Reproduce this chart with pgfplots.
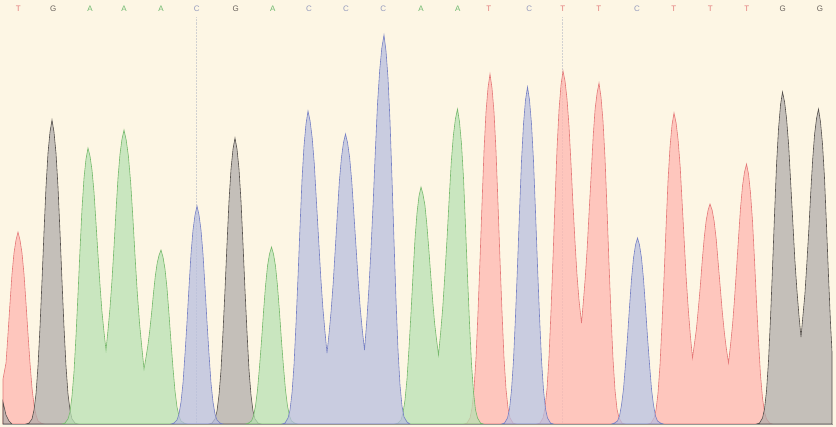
\documentclass[border=0pt]{standalone}
\usepackage{pgfplots}
\pgfplotsset{compat=1.18}
\usepackage{fontspec}
\setmainfont{Liberation Sans}
\definecolor{bg}{RGB}{253,246,228}
\definecolor{tfill}{RGB}{255,183,176}
\definecolor{gfill}{RGB}{177,173,171}
\definecolor{afill}{RGB}{184,225,179}
\definecolor{cfill}{RGB}{184,191,223}
\definecolor{tline}{RGB}{228,120,120}
\definecolor{gline}{RGB}{85,80,76}
\definecolor{aline}{RGB}{118,185,108}
\definecolor{cline}{RGB}{118,128,196}
\definecolor{tlab}{RGB}{226,120,120}
\definecolor{glab}{RGB}{105,98,92}
\definecolor{alab}{RGB}{110,185,110}
\definecolor{clab}{RGB}{150,156,190}
\begin{document}
\begin{tikzpicture}
\begin{axis}[
  width=836bp, height=427bp, scale only axis,
  xmin=0, xmax=836, ymin=-3, ymax=424,
  axis lines=none, xtick=\empty, ytick=\empty,
  axis background/.style={fill=bg},
  clip=true,
  tr/.style={draw=tline, fill=tfill, fill opacity=0.75, line width=0.6pt},
  gr/.style={draw=gline, fill=gfill, fill opacity=0.75, line width=0.6pt},
  ar/.style={draw=aline, fill=afill, fill opacity=0.75, line width=0.6pt},
  cr/.style={draw=cline, fill=cfill, fill opacity=0.75, line width=0.6pt},
]
\draw[densely dotted, color=black!18, line width=0.5pt] (axis cs:196.5,0) -- (axis cs:196.5,407);
\draw[densely dotted, color=black!18, line width=0.5pt] (axis cs:562,0) -- (axis cs:562,407);

% T (red)
\addplot[tr] coordinates {(3,0)(3,45)(6,61)(8,90)(10,121)(12,150)(14,171)(16,184)(18,192)(20,184)(22,171)(24,150)(26,121)(28,90)(30,61)(32,36)(34,19)(36,9)(38,3)(41,1)(44,0)} \closedcycle;
\addplot[tr] coordinates {(464,0)(467,1)(470,6)(472,16)(474,35)(476,66)(478,112)(480,164)(482,220)(484,273)(486,312)(488,336)(490,350)(492,336)(494,312)(496,273)(498,220)(500,164)(502,112)(504,66)(506,35)(508,16)(510,6)(513,1)(516,0)} \closedcycle;
\addplot[tr] coordinates {(537,0)(540,1)(543,6)(545,16)(547,35)(549,67)(551,113)(553,166)(555,222)(557,275)(559,314)(561,339)(563,353)(565,343)(567,325)(569,298)(571,260)(573,219)(575,182)(577,149)(579,124)(581.5,101)(583.4,123)(585.3,147)(587.3,178)(589.2,214)(591.3,252)(593.2,288)(595.1,315)(597.1,331)(599,341)(601,327)(603,303)(605,266)(607,215)(609,160)(611,109)(613,65)(615,34)(617,15)(619,6)(622,1)(625,0)} \closedcycle;
\addplot[tr] coordinates {(648,0)(651,1)(654,6)(656,14)(658,31)(660,59)(662,100)(664,146)(666,196)(668,243)(670,277)(672,299)(674,311)(676.1,301)(678.1,284)(680.2,257)(682.2,220)(684.3,181)(686.3,144)(688.4,113)(690.4,88)(692.5,66)(694.4,80)(696.4,95)(698.3,115)(700.3,138)(702.2,163)(704.2,186)(706.1,203)(708.1,214)(710,220)(712.1,214)(714.1,203)(716.2,185)(718.2,161)(720.3,136)(722.3,112)(724.4,91)(726.4,75)(728.5,61)(730.5,79)(732.5,99)(734.5,125)(736.5,155)(738.5,186)(740.5,216)(742.5,238)(744.5,252)(746.5,260)(748.5,250)(750.5,231)(752.5,203)(754.5,164)(756.5,122)(758.5,83)(760.5,49)(762.5,26)(764.5,12)(766.5,5)(769.5,1)(772.5,0)} \closedcycle;

% G (grey)
\addplot[gr] coordinates {(3,0)(3,22)(6,9)(9,3)(12,0)} \closedcycle;
\addplot[gr] coordinates {(26,0)(29,1)(32,5)(34,14)(36,30)(38,58)(40,97)(42,143)(44,192)(46,237)(48,271)(50,292)(52,304)(54,292)(56,271)(58,237)(60,192)(62,143)(64,97)(66,58)(68,30)(70,14)(72,5)(75,1)(78,0)} \closedcycle;
\addplot[gr] coordinates {(209,0)(212,1)(215,5)(217,13)(219,29)(221,54)(223,92)(225,134)(227,180)(229,223)(231,255)(233,275)(235,286)(237,275)(239,255)(241,223)(243,180)(245,134)(247,92)(249,54)(251,29)(253,13)(255,5)(258,1)(261,0)} \closedcycle;
\addplot[gr] coordinates {(756.5,0)(759.5,1)(762.5,6)(764.5,15)(766.5,33)(768.5,63)(770.5,106)(772.5,156)(774.5,209)(776.5,259)(778.5,295)(780.5,319)(782.5,332)(784.6,322)(786.6,305)(788.7,278)(790.7,241)(792.8,202)(794.8,165)(796.9,134)(798.9,109)(801,87)(802.9,108)(804.9,130)(806.8,160)(808.8,194)(810.7,231)(812.7,265)(814.6,290)(816.6,306)(818.5,315)(820.5,302)(822.5,280)(824.5,246)(826.5,198)(828.5,148)(830.5,101)(832,72)(832,0)} \closedcycle;

% A (green)
\addplot[ar] coordinates {(62,0)(65,1)(68,5)(70,12)(72,28)(74,52)(76,88)(78,130)(80,174)(82,215)(84,246)(86,265)(88,276)(90,268)(92,254)(94,232)(96,201)(98,169)(100,139)(102,112)(104,92)(106,74)(108,94)(110,116)(112,144)(114,177)(116,213)(118,246)(120,270)(122,285)(124,294)(126.2,284)(128.4,268)(130.7,241)(132.9,206)(135.1,167)(137.3,131)(139.6,100)(141.8,77)(144,55)(145.9,66)(147.8,78)(149.7,93)(151.6,111)(153.4,130)(155.3,148)(157.2,161)(159.1,169)(161,174)(163,167)(165,155)(167,136)(169,110)(171,82)(173,56)(175,33)(177,17)(179,8)(181,3)(184,1)(187,0)} \closedcycle;
\addplot[ar] coordinates {(245.5,0)(248.5,1)(251.5,3)(253.5,8)(255.5,18)(257.5,34)(259.5,57)(261.5,83)(263.5,112)(265.5,138)(267.5,158)(269.5,170)(271.5,177)(273.5,170)(275.5,158)(277.5,138)(279.5,112)(281.5,83)(283.5,57)(285.5,34)(287.5,18)(289.5,8)(291.5,3)(294.5,1)(297.5,0)} \closedcycle;
\addplot[ar] coordinates {(395,0)(398,1)(401,4)(403,11)(405,24)(407,45)(409,76)(411,111)(413,149)(415,185)(417,211)(419,228)(421,237)(422.9,230)(424.9,219)(426.8,200)(428.8,175)(430.8,148)(432.7,123)(434.6,101)(436.6,84)(438.5,69)(440.6,91)(442.7,116)(444.8,148)(447,185)(449.1,224)(451.2,261)(453.3,288)(455.4,305)(457.5,315)(459.5,302)(461.5,280)(463.5,246)(465.5,198)(467.5,148)(469.5,101)(471.5,60)(473.5,32)(475.5,14)(477.5,6)(480.5,1)(483.5,0)} \closedcycle;

% C (blue)
\addplot[cr] coordinates {(171,0)(174,1)(177,4)(179,10)(181,22)(183,41)(185,70)(187,102)(189,137)(191,170)(193,194)(195,209)(197,218)(199,209)(201,194)(203,170)(205,137)(207,102)(209,70)(211,41)(213,22)(215,10)(217,4)(220,1)(223,0)} \closedcycle;
\addplot[cr] coordinates {(282,0)(285,1)(288,6)(290,14)(292,31)(294,59)(296,100)(298,147)(300,197)(302,244)(304,278)(306,300)(308,313)(310.1,303)(312.2,286)(314.3,260)(316.4,223)(318.6,185)(320.7,148)(322.8,117)(324.9,93)(327,71)(329.1,91)(331.1,113)(333.2,141)(335.2,174)(337.3,209)(339.3,242)(341.4,266)(343.4,281)(345.5,290)(347.6,281)(349.7,266)(351.8,242)(353.9,210)(356.1,176)(358.2,143)(360.3,115)(362.4,93)(364.5,74)(366.7,102)(368.8,134)(371,175)(373.2,222)(375.3,272)(377.5,320)(379.7,354)(381.8,376)(384,389)(386,373)(388,346)(390,303)(392,245)(394,183)(396,124)(398,74)(400,39)(402,18)(404,7)(407,2)(410,0)} \closedcycle;
\addplot[cr] coordinates {(501.5,0)(504.5,1)(507.5,6)(509.5,15)(511.5,34)(513.5,64)(515.5,108)(517.5,158)(519.5,212)(521.5,263)(523.5,300)(525.5,324)(527.5,337)(529.5,324)(531.5,300)(533.5,263)(535.5,212)(537.5,158)(539.5,108)(541.5,64)(543.5,34)(545.5,15)(547.5,6)(550.5,1)(553.5,0)} \closedcycle;
\addplot[cr] coordinates {(611.5,0)(614.5,1)(617.5,3)(619.5,8)(621.5,19)(623.5,35)(625.5,60)(627.5,87)(629.5,117)(631.5,145)(633.5,166)(635.5,179)(637.5,186)(639.5,179)(641.5,166)(643.5,145)(645.5,117)(647.5,87)(649.5,60)(651.5,35)(653.5,19)(655.5,8)(657.5,3)(660.5,1)(663.5,0)} \closedcycle;

\draw[color=gline!60, line width=0.6pt] (axis cs:3,0) -- (axis cs:833,0);

% base calls
\begin{scope}[every node/.style={font=\fontsize{8}{8}\selectfont, anchor=center, inner sep=0pt}]
\node[text=tlab] at (axis cs:18.3,415) {T};
\node[text=glab] at (axis cs:53.3,415) {G};
\node[text=alab] at (axis cs:90,415) {A};
\node[text=alab] at (axis cs:124,415) {A};
\node[text=alab] at (axis cs:161,415) {A};
\node[text=clab] at (axis cs:196.7,415) {C};
\node[text=glab] at (axis cs:235.7,415) {G};
\node[text=alab] at (axis cs:272.7,415) {A};
\node[text=clab] at (axis cs:309,415) {C};
\node[text=clab] at (axis cs:346,415) {C};
\node[text=clab] at (axis cs:383.3,415) {C};
\node[text=alab] at (axis cs:421,415) {A};
\node[text=alab] at (axis cs:457.7,415) {A};
\node[text=tlab] at (axis cs:488.7,415) {T};
\node[text=clab] at (axis cs:529.3,415) {C};
\node[text=tlab] at (axis cs:562.7,415) {T};
\node[text=tlab] at (axis cs:598.7,415) {T};
\node[text=clab] at (axis cs:637,415) {C};
\node[text=tlab] at (axis cs:673.7,415) {T};
\node[text=tlab] at (axis cs:710.3,415) {T};
\node[text=tlab] at (axis cs:746.7,415) {T};
\node[text=glab] at (axis cs:782.7,415) {G};
\node[text=glab] at (axis cs:820,415) {G};
\end{scope}
\end{axis}
\end{tikzpicture}
\end{document}
